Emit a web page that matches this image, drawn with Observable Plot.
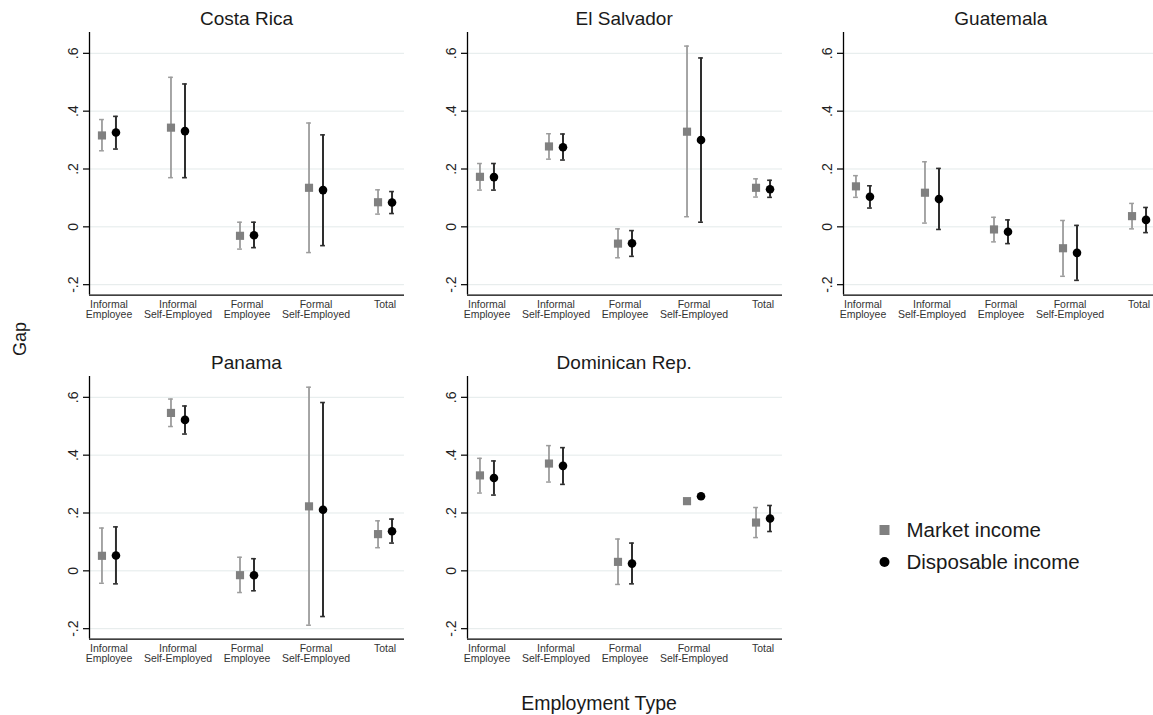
<!DOCTYPE html>
<html><head><meta charset="utf-8">
<script src="https://cdn.jsdelivr.net/npm/d3@7"></script>
<script src="https://cdn.jsdelivr.net/npm/@observablehq/plot@0.6"></script>
<style>
body{margin:0;background:#fff;font-family:"Liberation Sans",Arial,sans-serif;}
#wrap{position:relative;width:1153px;height:715px;overflow:hidden;background:#fff;}
.title{position:absolute;font-size:19px;line-height:22px;color:#1a1a1a;text-align:center;width:315px;white-space:nowrap;}
.panel{position:absolute;}
.panel svg{max-width:none !important;}
.lab{position:absolute;color:#1a1a1a;white-space:nowrap;}
.leg{position:absolute;font-size:20.5px;line-height:24px;color:#1a1a1a;white-space:nowrap;}
</style></head><body><div id="wrap"></div>
<script>
const countries = ["Costa Rica", "El Salvador", "Guatemala", "Panama", "Dominican Rep."];
const categories = ["Informal\nEmployee", "Informal\nSelf-Employed", "Formal\nEmployee", "Formal\nSelf-Employed", "Total"];
const yTicks = [-0.2, 0, 0.2, 0.4, 0.6];
const yTickLabels = ["-.2", "0", ".2", ".4", ".6"];
const seriesNames = ["Market income", "Disposable income"];

// rows: countries; columns: categories
const marketEst = [
  [0.316, 0.343, -0.031, 0.135, 0.085],
  [0.173, 0.278, -0.058, 0.329, 0.135],
  [0.140, 0.118, -0.009, -0.074, 0.037],
  [0.052, 0.546, -0.015, 0.223, 0.127],
  [0.330, 0.371, 0.031, 0.241, 0.167]];
const marketLo = [
  [0.263, 0.170, -0.077, -0.089, 0.044],
  [0.127, 0.234, -0.107, 0.035, 0.103],
  [0.102, 0.013, -0.052, -0.171, -0.007],
  [-0.043, 0.499, -0.075, -0.188, 0.080],
  [0.269, 0.307, -0.047, null, 0.115]];
const marketHi = [
  [0.371, 0.517, 0.016, 0.359, 0.128],
  [0.219, 0.322, -0.007, 0.625, 0.166],
  [0.177, 0.225, 0.033, 0.022, 0.081],
  [0.148, 0.594, 0.047, 0.635, 0.173],
  [0.389, 0.433, 0.110, null, 0.219]];
const dispEst = [
  [0.326, 0.331, -0.029, 0.127, 0.084],
  [0.172, 0.275, -0.057, 0.300, 0.130],
  [0.104, 0.096, -0.017, -0.090, 0.024],
  [0.053, 0.522, -0.015, 0.211, 0.137],
  [0.321, 0.363, 0.025, 0.258, 0.181]];
const dispLo = [
  [0.269, 0.170, -0.072, -0.065, 0.046],
  [0.127, 0.231, -0.102, 0.016, 0.102],
  [0.065, -0.009, -0.058, -0.185, -0.020],
  [-0.045, 0.473, -0.069, -0.158, 0.096],
  [0.262, 0.299, -0.045, null, 0.136]];
const dispHi = [
  [0.382, 0.494, 0.016, 0.318, 0.122],
  [0.219, 0.321, -0.013, 0.584, 0.161],
  [0.142, 0.202, 0.024, 0.005, 0.067],
  [0.152, 0.570, 0.042, 0.582, 0.179],
  [0.380, 0.426, 0.096, null, 0.226]];

const W = 377, ML = 60, MR = 2, MT = 10, MB = 36, PH = 262.6;
const H = MT + PH + MB;
const pad = 0.282;
const xDomain = [1 - pad, categories.length + pad];
const yDomain = [-0.236, 0.672];
const FONT = '"Liberation Sans", Arial, sans-serif';
const mColor = "#808080", mBar = "#9c9c9c", dColor = "#000", dBar = "#2e2e2e";
const OFF = 7, CAP = 2.4;

function panel(ci) {
  const rows = categories.map((c, i) => ({
    i: i + 1,
    m: marketEst[ci][i], mlo: marketLo[ci][i], mhi: marketHi[ci][i],
    d: dispEst[ci][i], dlo: dispLo[ci][i], dhi: dispHi[ci][i]
  }));
  const mCI = rows.filter(r => r.mlo != null);
  const dCI = rows.filter(r => r.dlo != null);
  return Plot.plot({
    width: W, height: H,
    marginLeft: ML, marginRight: MR, marginTop: MT, marginBottom: MB,
    x: {domain: xDomain, axis: null},
    y: {domain: yDomain, axis: null},
    style: {fontFamily: FONT, background: "transparent", overflow: "visible", maxWidth: "none"},
    marks: [
      Plot.gridY(yTicks, {stroke: "#e3eaea", strokeOpacity: 1, strokeWidth: 1}),
      Plot.ruleY([yDomain[0]], {stroke: "#000", strokeWidth: 1.3}),
      Plot.ruleX([xDomain[0]], {stroke: "#000", strokeWidth: 1.3}),
      Plot.ruleY(yTicks, {y: d => d, x1: xDomain[0], x2: xDomain[0], insetLeft: -6, stroke: "#000", strokeWidth: 1.2}),
      Plot.text(yTicks, {y: d => d, frameAnchor: "left", dx: -16, rotate: -90, text: (d, i) => yTickLabels[i], fontSize: 14, fill: "#222", textAnchor: "middle", lineAnchor: "middle"}),
      Plot.text(categories, {x: (d, i) => i + 1, frameAnchor: "bottom", dy: 5, lineAnchor: "top", text: d => d, fontSize: 10.5, lineHeight: 1.02, fill: "#333"}),
      // market income
      Plot.ruleX(mCI, {x: "i", y1: "mlo", y2: "mhi", dx: -OFF, stroke: mBar, strokeWidth: 1.8}),
      Plot.ruleY(mCI, {y: "mlo", x1: "i", x2: "i", dx: -OFF, insetLeft: -CAP, insetRight: -CAP, stroke: mBar, strokeWidth: 1.5}),
      Plot.ruleY(mCI, {y: "mhi", x1: "i", x2: "i", dx: -OFF, insetLeft: -CAP, insetRight: -CAP, stroke: mBar, strokeWidth: 1.5}),
      Plot.dot(rows, {x: "i", y: "m", dx: -OFF, symbol: "square", r: 4.6, fill: mColor, stroke: "none"}),
      // disposable income
      Plot.ruleX(dCI, {x: "i", y1: "dlo", y2: "dhi", dx: OFF, stroke: dBar, strokeWidth: 2}),
      Plot.ruleY(dCI, {y: "dlo", x1: "i", x2: "i", dx: OFF, insetLeft: -CAP, insetRight: -CAP, stroke: dBar, strokeWidth: 1.6}),
      Plot.ruleY(dCI, {y: "dhi", x1: "i", x2: "i", dx: OFF, insetLeft: -CAP, insetRight: -CAP, stroke: dBar, strokeWidth: 1.6}),
      Plot.dot(rows, {x: "i", y: "d", dx: OFF, symbol: "circle", r: 4.3, fill: dColor, stroke: "none"})
    ]
  });
}

const wrap = document.getElementById("wrap");
const colLeft = [29, 406.7, 783.3];
const rowTop = [21.7, 365.7];
countries.forEach((name, ci) => {
  const col = ci % 3, row = Math.floor(ci / 3);
  const svg = panel(ci);
  svg.style.maxWidth = "none";
  const div = document.createElement("div");
  div.className = "panel";
  div.style.left = colLeft[col] + "px";
  div.style.top = rowTop[row] + "px";
  div.style.width = W + "px";
  div.style.height = H + "px";
  div.appendChild(svg);
  wrap.appendChild(div);
  const t = document.createElement("div");
  t.className = "title";
  t.textContent = name;
  t.style.left = (colLeft[col] + ML) + "px";
  t.style.top = (rowTop[row] - 13.7) + "px";
  wrap.appendChild(t);
});

// axis titles
const gap = document.createElement("div");
gap.className = "lab";
gap.textContent = "Gap";
gap.style.fontSize = "18px";
gap.style.lineHeight = "20px";
gap.style.left = "20px";
gap.style.top = "339px";
gap.style.transform = "translate(-50%,-50%) rotate(-90deg)";
wrap.appendChild(gap);

const xt = document.createElement("div");
xt.className = "lab";
xt.textContent = "Employment Type";
xt.style.fontSize = "19.5px";
xt.style.lineHeight = "22px";
xt.style.left = "599px";
xt.style.top = "703px";
xt.style.transform = "translate(-50%,-50%)";
wrap.appendChild(xt);

// legend
const legY = [530, 561.7];
seriesNames.forEach((s, k) => {
  const item = document.createElement("div");
  item.className = "leg";
  item.style.left = "879px";
  item.style.top = (legY[k] - 12) + "px";
  const sym = k === 0
    ? `<svg width="11" height="24" style="vertical-align:top"><rect x="0.5" y="7" width="10" height="10" fill="${mColor}"/></svg>`
    : `<svg width="11" height="24" style="vertical-align:top"><circle cx="5.5" cy="12" r="5" fill="${dColor}"/></svg>`;
  item.innerHTML = sym + `<span style="margin-left:16.5px">${s}</span>`;
  wrap.appendChild(item);
});
</script>
</body></html>
